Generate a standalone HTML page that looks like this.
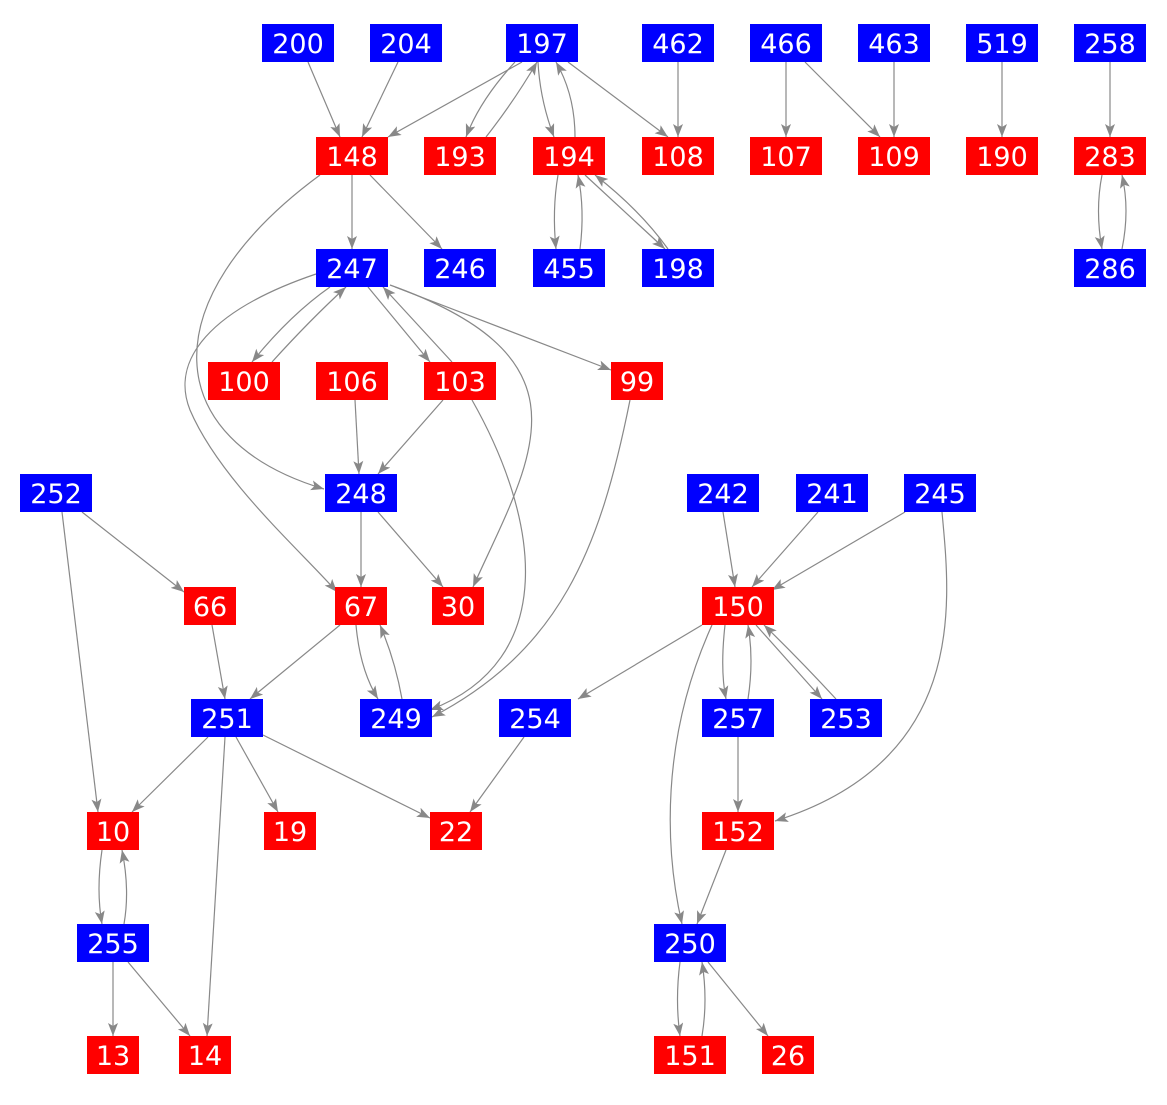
<!DOCTYPE html>
<html><head><meta charset="utf-8"><style>
html,body{margin:0;padding:0;background:#fff;}
svg text{font-family:"DejaVu Sans","Liberation Sans",sans-serif;font-size:27px;fill:#fff;text-anchor:middle;}
</style></head><body>
<svg width="1167" height="1100" viewBox="0 0 1167 1100" xmlns="http://www.w3.org/2000/svg">
<defs><marker id="a" markerUnits="userSpaceOnUse" markerWidth="14" markerHeight="12" refX="13" refY="5" orient="auto"><path d="M0,0 L13,5 L0,10 L3,5 Z" fill="#888"/></marker></defs>
<g fill="none" stroke="#888" stroke-width="1.2" marker-end="url(#a)">
<path d="M308,62 L340,137"/><path d="M398,62 L362,137"/><path d="M522,62 L388,137"/>
<path d="M515,62 Q480,100 466,137"/><path d="M486,137 Q515,100 537,62"/>
<path d="M538,62 Q540,100 554,137"/><path d="M575,137 Q575,95 556,62"/>
<path d="M568,62 L668,137"/><path d="M678,62 L678,137"/><path d="M786,62 L786,137"/>
<path d="M805,62 L880,137"/><path d="M894,62 L894,137"/><path d="M1002,62 L1002,137"/>
<path d="M1110,62 L1110,137"/><path d="M1102,175 Q1095,210 1102,249"/><path d="M1122,249 Q1130,210 1122,175"/>
<path d="M352,175 L352,249"/><path d="M370,175 L442,249"/>
<path d="M320,175 C150,300 160,440 324,489"/>
<path d="M558,175 Q552,210 556,249"/><path d="M580,249 Q585,210 578,175"/>
<path d="M585,175 L665,249"/><path d="M668,249 Q640,210 595,175"/>
<path d="M330,287 Q290,315 252,362"/><path d="M272,362 Q310,320 346,287"/>
<path d="M368,287 L430,362"/><path d="M452,362 L383,287"/>
<path d="M395,287 L611,370"/>
<path d="M390,285 C600,360 530,460 473,587"/>
<path d="M316,274 C210,310 170,360 190,410 C220,480 300,550 337,592"/>
<path d="M355,400 L359,474"/><path d="M443,400 L378,474"/>
<path d="M472,400 C540,520 560,660 430,710"/>
<path d="M630,400 C600,550 560,650 432,717"/>
<path d="M361,512 L361,587"/><path d="M378,512 L443,587"/>
<path d="M82,512 L184,592"/><path d="M62,512 L98,812"/>
<path d="M212,625 L225,699"/><path d="M340,625 L250,699"/>
<path d="M356,625 Q360,670 378,699"/><path d="M402,699 Q395,660 380,625"/>
<path d="M208,737 L132,812"/><path d="M236,737 L278,812"/><path d="M263,735 L430,818"/>
<path d="M225,737 L207,1036"/><path d="M524,737 L470,812"/>
<path d="M723,512 L735,587"/><path d="M818,512 L752,587"/><path d="M905,512 L772,590"/>
<path d="M942,512 C950,600 970,760 775,821"/>
<path d="M702,625 L578,699"/>
<path d="M725,625 Q720,670 726,699"/><path d="M748,699 Q754,660 748,625"/>
<path d="M756,625 L822,699"/><path d="M836,699 Q800,660 764,625"/>
<path d="M712,625 C660,740 665,850 682,924"/>
<path d="M738,737 L738,812"/><path d="M726,850 L697,924"/>
<path d="M680,962 Q675,1000 680,1036"/><path d="M702,1036 Q708,1000 702,962"/>
<path d="M708,962 L768,1036"/>
<path d="M102,850 Q96,890 102,924"/><path d="M124,924 Q130,890 122,850"/>
<path d="M113,962 L113,1036"/><path d="M128,962 L190,1036"/>
</g>
<g>
<rect x="262" y="24" width="72" height="38" fill="#00f"/><text x="298" y="53">200</text>
<rect x="370" y="24" width="72" height="38" fill="#00f"/><text x="406" y="53">204</text>
<rect x="506" y="24" width="72" height="38" fill="#00f"/><text x="542" y="53">197</text>
<rect x="642" y="24" width="72" height="38" fill="#00f"/><text x="678" y="53">462</text>
<rect x="750" y="24" width="72" height="38" fill="#00f"/><text x="786" y="53">466</text>
<rect x="858" y="24" width="72" height="38" fill="#00f"/><text x="894" y="53">463</text>
<rect x="966" y="24" width="72" height="38" fill="#00f"/><text x="1002" y="53">519</text>
<rect x="1074" y="24" width="72" height="38" fill="#00f"/><text x="1110" y="53">258</text>

<rect x="316" y="137" width="72" height="38" fill="#f00"/><text x="352" y="166">148</text>
<rect x="424" y="137" width="72" height="38" fill="#f00"/><text x="460" y="166">193</text>
<rect x="533" y="137" width="72" height="38" fill="#f00"/><text x="569" y="166">194</text>
<rect x="642" y="137" width="72" height="38" fill="#f00"/><text x="678" y="166">108</text>
<rect x="750" y="137" width="72" height="38" fill="#f00"/><text x="786" y="166">107</text>
<rect x="858" y="137" width="72" height="38" fill="#f00"/><text x="894" y="166">109</text>
<rect x="966" y="137" width="72" height="38" fill="#f00"/><text x="1002" y="166">190</text>
<rect x="1074" y="137" width="72" height="38" fill="#f00"/><text x="1110" y="166">283</text>

<rect x="316" y="249" width="72" height="38" fill="#00f"/><text x="352" y="278">247</text>
<rect x="424" y="249" width="72" height="38" fill="#00f"/><text x="460" y="278">246</text>
<rect x="533" y="249" width="72" height="38" fill="#00f"/><text x="569" y="278">455</text>
<rect x="642" y="249" width="72" height="38" fill="#00f"/><text x="678" y="278">198</text>
<rect x="1074" y="249" width="72" height="38" fill="#00f"/><text x="1110" y="278">286</text>

<rect x="208" y="362" width="72" height="38" fill="#f00"/><text x="244" y="391">100</text>
<rect x="316" y="362" width="72" height="38" fill="#f00"/><text x="352" y="391">106</text>
<rect x="424" y="362" width="72" height="38" fill="#f00"/><text x="460" y="391">103</text>
<rect x="611" y="362" width="52" height="38" fill="#f00"/><text x="637" y="391">99</text>

<rect x="20" y="474" width="72" height="38" fill="#00f"/><text x="56" y="503">252</text>
<rect x="325" y="474" width="72" height="38" fill="#00f"/><text x="361" y="503">248</text>
<rect x="687" y="474" width="72" height="38" fill="#00f"/><text x="723" y="503">242</text>
<rect x="796" y="474" width="72" height="38" fill="#00f"/><text x="832" y="503">241</text>
<rect x="904" y="474" width="72" height="38" fill="#00f"/><text x="940" y="503">245</text>

<rect x="184" y="587" width="52" height="38" fill="#f00"/><text x="210" y="616">66</text>
<rect x="335" y="587" width="52" height="38" fill="#f00"/><text x="361" y="616">67</text>
<rect x="432" y="587" width="52" height="38" fill="#f00"/><text x="458" y="616">30</text>
<rect x="702" y="587" width="72" height="38" fill="#f00"/><text x="738" y="616">150</text>

<rect x="191" y="699" width="72" height="38" fill="#00f"/><text x="227" y="728">251</text>
<rect x="360" y="699" width="72" height="38" fill="#00f"/><text x="396" y="728">249</text>
<rect x="499" y="699" width="72" height="38" fill="#00f"/><text x="535" y="728">254</text>
<rect x="702" y="699" width="72" height="38" fill="#00f"/><text x="738" y="728">257</text>
<rect x="810" y="699" width="72" height="38" fill="#00f"/><text x="846" y="728">253</text>

<rect x="87" y="812" width="52" height="38" fill="#f00"/><text x="113" y="841">10</text>
<rect x="264" y="812" width="52" height="38" fill="#f00"/><text x="290" y="841">19</text>
<rect x="430" y="812" width="52" height="38" fill="#f00"/><text x="456" y="841">22</text>
<rect x="702" y="812" width="72" height="38" fill="#f00"/><text x="738" y="841">152</text>

<rect x="77" y="924" width="72" height="38" fill="#00f"/><text x="113" y="953">255</text>
<rect x="654" y="924" width="72" height="38" fill="#00f"/><text x="690" y="953">250</text>

<rect x="87" y="1036" width="52" height="38" fill="#f00"/><text x="113" y="1065">13</text>
<rect x="179" y="1036" width="52" height="38" fill="#f00"/><text x="205" y="1065">14</text>
<rect x="654" y="1036" width="72" height="38" fill="#f00"/><text x="690" y="1065">151</text>
<rect x="762" y="1036" width="52" height="38" fill="#f00"/><text x="788" y="1065">26</text>
</g>
</svg>
</body></html>
